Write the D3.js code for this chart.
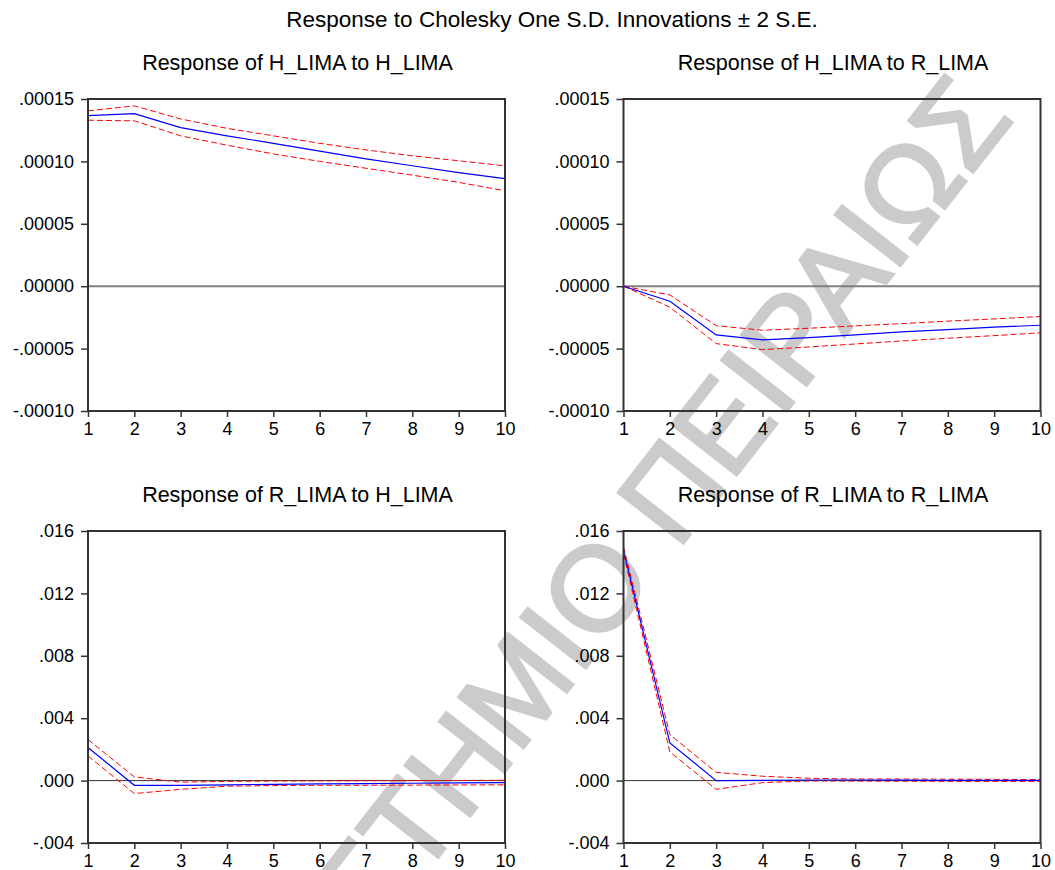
<!DOCTYPE html>
<html>
<head>
<meta charset="utf-8">
<script src="https://cdn.jsdelivr.net/npm/d3@7"></script>
<style>
    body { margin: 0; background: #fff; }
    svg { display: block; }
    text { font-family: "Liberation Sans", Arial, sans-serif; }
</style>
</head>
<body>
<script>
// periods after the shock
const periods = [1, 2, 3, 4, 5, 6, 7, 8, 9, 10];

// response of H_LIMA to H_LIMA
const hhResp  = [0.0001367, 0.0001383, 0.0001271, 0.0001205, 0.0001145, 0.0001082, 0.0001020, 0.0000965, 0.0000910, 0.0000862];
const hhUpper = [0.0001405, 0.0001445, 0.0001340, 0.0001265, 0.0001205, 0.0001145, 0.0001092, 0.0001045, 0.0001005, 0.0000965];
const hhLower = [0.0001330, 0.0001325, 0.0001205, 0.0001130, 0.0001060, 0.0001000, 0.0000945, 0.0000890, 0.0000832, 0.0000765];

// response of H_LIMA to R_LIMA
const hrResp  = [0, -0.0000120, -0.0000390, -0.0000430, -0.0000412, -0.0000390, -0.0000366, -0.0000348, -0.0000328, -0.0000313];
const hrUpper = [0, -0.0000070, -0.0000316, -0.0000353, -0.0000337, -0.0000318, -0.0000300, -0.0000280, -0.0000262, -0.0000243];
const hrLower = [0, -0.0000168, -0.0000460, -0.0000508, -0.0000487, -0.0000463, -0.0000439, -0.0000417, -0.0000396, -0.0000374];

// response of R_LIMA to H_LIMA
const rhResp  = [0.00212, -0.00030, -0.00030, -0.00027, -0.00024, -0.00021, -0.00019, -0.00017, -0.00015, -0.00013];
const rhUpper = [0.00263, 0.00024, -0.00010, -0.00005, -0.00003, -0.00002, -0.00001, 0.00000, 0.00001, 0.00002];
const rhLower = [0.00158, -0.00083, -0.00056, -0.00036, -0.00032, -0.00030, -0.00030, -0.00029, -0.00028, -0.00027];

// response of R_LIMA to R_LIMA
const rrResp  = [0.01478, 0.00242, 0.00000, 0.00002, 0.00004, 0.00004, 0.00003, 0.00002, 0.00002, 0.00001];
const rrUpper = [0.01500, 0.00295, 0.00053, 0.00028, 0.00015, 0.00010, 0.00010, 0.00009, 0.00008, 0.00007];
const rrLower = [0.01456, 0.00184, -0.00056, -0.00013, -0.00002, -0.00003, -0.00004, -0.00005, -0.00005, -0.00005];

// y tick labels
const hTicks = [-0.0001, -0.00005, 0, 0.00005, 0.0001, 0.00015];
const rTicks = [-0.004, 0, 0.004, 0.008, 0.012, 0.016];

const mainTitle = "Response to Cholesky One S.D. Innovations \u00b1 2 S.E.";

const W = 1055, H = 870;
const pw = 417, ph = 312;

// plain hyphen for negatives, like the original
const locale = d3.formatLocale({decimal: ".", thousands: ",", grouping: [3], currency: ["$", ""], minus: "-"});

const svg = d3.select("body").append("svg")
    .attr("width", W)
    .attr("height", H);

// watermark, sits under the charts
const wm = svg.append("g")
    .attr("transform", "translate(657,577) rotate(-52)")
    .style("font-size", "120px")
    .attr("fill", "#cbcbcb")
    .attr("stroke", "#cbcbcb")
    .attr("stroke-width", 3);
wm.append("text").attr("text-anchor", "end").text("ΠΑΝΕΠΙΣΤΗΜΙΟ");
wm.append("text").attr("x", 33).text("ΠΕΙΡΑΙΩΣ");

svg.append("text")
    .attr("x", 552)
    .attr("y", 27)
    .attr("text-anchor", "middle")
    .style("font-size", "22.5px")
    .text(mainTitle);

function fmt(dec) {
    const f = locale.format("." + dec + "f");
    return d => f(d).replace(/^(-?)0\./, "$1.");
}

const panels = [
    {title: "Response of H_LIMA to H_LIMA", resp: hhResp, upper: hhUpper, lower: hhLower,
     ticks: hTicks, dec: 5, left: 88, top: 99, zero: {c: "#808080", w: 2}},
    {title: "Response of H_LIMA to R_LIMA", resp: hrResp, upper: hrUpper, lower: hrLower,
     ticks: hTicks, dec: 5, left: 623.5, top: 99, zero: {c: "#808080", w: 2}},
    {title: "Response of R_LIMA to H_LIMA", resp: rhResp, upper: rhUpper, lower: rhLower,
     ticks: rTicks, dec: 3, left: 88, top: 531, zero: {c: "#333", w: 1}},
    {title: "Response of R_LIMA to R_LIMA", resp: rrResp, upper: rrUpper, lower: rrLower,
     ticks: rTicks, dec: 3, left: 623.5, top: 531, zero: {c: "#333", w: 1}}
];

panels.forEach(p => {
    const g = svg.append("g").attr("transform", `translate(${p.left},${p.top})`);

    const x = d3.scaleLinear().domain([1, 10]).range([0, pw]);
    const y = d3.scaleLinear().domain(d3.extent(p.ticks)).range([ph, 0]);

    g.append("text")
        .attr("x", pw / 2 + 1)
        .attr("y", -29)
        .attr("text-anchor", "middle")
        .style("font-size", "21.5px")
        .text(p.title);

    // zero line
    g.append("line")
        .attr("x1", 0).attr("x2", pw)
        .attr("y1", y(0)).attr("y2", y(0))
        .attr("stroke", p.zero.c)
        .attr("stroke-width", p.zero.w);

    const line = d3.line()
        .x((d, i) => x(periods[i]))
        .y(d => y(d));

    [p.upper, p.lower].forEach(s => {
        g.append("path")
            .datum(s)
            .attr("d", line)
            .attr("fill", "none")
            .attr("stroke", "#ff0000")
            .attr("stroke-width", 1)
            .attr("stroke-dasharray", "6,3");
    });

    g.append("path")
        .datum(p.resp)
        .attr("d", line)
        .attr("fill", "none")
        .attr("stroke", "#0000ff")
        .attr("stroke-width", 1.2);

    // axes
    const ya = g.append("g")
        .call(d3.axisLeft(y).tickValues(p.ticks).tickSize(7).tickSizeOuter(0).tickPadding(7).tickFormat(fmt(p.dec)));
    const xa = g.append("g")
        .attr("transform", `translate(0,${ph})`)
        .call(d3.axisBottom(x).tickValues(periods).tickSize(6).tickSizeOuter(0).tickPadding(5.5));

    [ya, xa].forEach(a => {
        a.select(".domain").remove();
        a.selectAll("line").attr("stroke", "#333").attr("stroke-width", 1.5);
        a.selectAll("text").attr("fill", "#000").style("font-size", "18px")
            .style("font-family", "'Liberation Sans', Arial, sans-serif");
    });

    // frame
    g.append("rect")
        .attr("width", pw)
        .attr("height", ph)
        .attr("fill", "none")
        .attr("stroke", "#333")
        .attr("stroke-width", 2);
});
</script>
</body>
</html>
